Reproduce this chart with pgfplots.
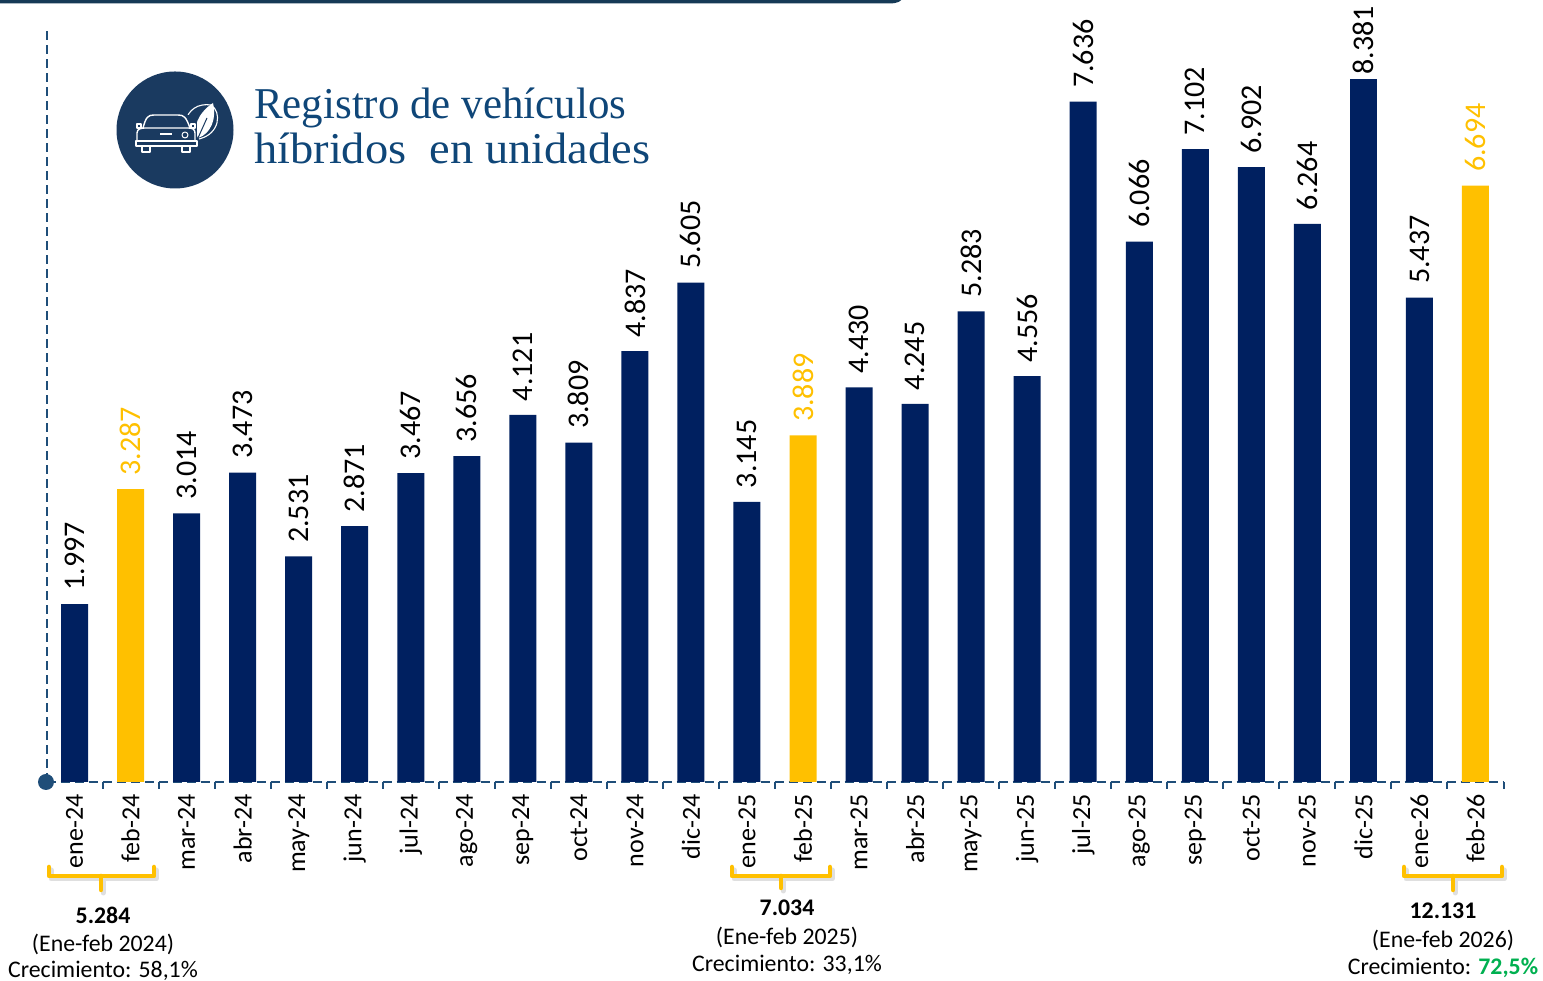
\documentclass[border=0pt]{standalone}
\usepackage{fontspec}
\setmainfont{Carlito}
\newfontfamily\titlefont{Liberation Serif}
\usepackage{pgfplots}
\usepackage{pgfplotstable}
\pgfplotsset{compat=1.18}
\definecolor{navybar}{HTML}{002060}
\definecolor{goldbar}{HTML}{FFC000}
\definecolor{axisblue}{HTML}{1F4E79}
\definecolor{iconblue}{HTML}{1A3A60}
\definecolor{bandblue}{HTML}{163A56}
\definecolor{titleblue}{HTML}{0F4678}
\definecolor{greenpct}{HTML}{00B050}
\pgfplotstableread{
x y label
0 1997 1.997
2 3014 3.014
3 3473 3.473
4 2531 2.531
5 2871 2.871
6 3467 3.467
7 3656 3.656
8 4121 4.121
9 3809 3.809
10 4837 4.837
11 5605 5.605
12 3145 3.145
14 4430 4.430
15 4245 4.245
16 5283 5.283
17 4556 4.556
18 7636 7.636
19 6066 6.066
20 7102 7.102
21 6902 6.902
22 6264 6.264
24 5437 5.437
}\navydata
\pgfplotstableread{
x y label
1 3287 3.287
13 3889 3.889
25 6694 6.694
}\golddata
% Bar height as drawn in the reference; its printed label is 8.381
\pgfplotstableread{
x y label
23 7890 8.381
}\capdata
\newcommand{\bracket}[5]{% x1 x2 xmid ytop ynub
  \draw[black!25,opacity=.5,line width=5pt,line cap=round,line join=round,shift={(2,3)}]
    (#1,#4) -- (#1,876) -- (#2,876) -- (#2,#4) (#3,876) -- (#3,#5);
  \draw[goldbar,line width=4.5pt,line cap=round,line join=round]
    (#1,#4) -- (#1,876) -- (#2,876) -- (#2,#4) (#3,876) -- (#3,#5);
}
\begin{document}
\begin{tikzpicture}[x=1pt,y=1pt]
\useasboundingbox (0,0) rectangle (1543,981);
\begin{axis}[
  at={(46.5pt,199pt)}, anchor=south west,
  scale only axis, width=1457pt, height=752pt,
  xmin=-0.5, xmax=25.5, ymin=0, ymax=8440,
  axis lines=left,
  axis line style={-, axisblue, line width=2pt, dash pattern=on 9pt off 5pt},
  clip=false,
  ybar, bar width=27pt,
  ytick=\empty,
  xtick={0,...,25},
  xticklabels={ene-24,feb-24,mar-24,abr-24,may-24,jun-24,jul-24,ago-24,sep-24,oct-24,nov-24,dic-24,ene-25,feb-25,mar-25,abr-25,may-25,jun-25,jul-25,ago-25,sep-25,oct-25,nov-25,dic-25,ene-26,feb-26},
  major tick length=0pt,
  minor xtick={-0.5,0.5,...,25.5},
  minor tick length=7pt,
  tick align=outside,
  minor tick style={axisblue, line width=2pt},
  xticklabel style={yshift=-9pt, rotate=90, anchor=east, font=\fontsize{26}{26}\selectfont, text=black},
  point meta=explicit symbolic,
  nodes near coords,
  every node near coord/.append style={rotate=90, anchor=west, inner ysep=0pt, inner xsep=13.5pt, font=\fontsize{30}{30}\selectfont},
]
\addplot[ybar, bar shift=0pt, fill=navybar, draw=none, text=black] table[x=x,y=y,meta=label] {\navydata};
\addplot[ybar, bar shift=0pt, fill=goldbar, draw=none, text=goldbar] table[x=x,y=y,meta=label] {\golddata};
\addplot[ybar, bar shift=0pt, fill=navybar, draw=none, text=black, every node near coord/.append style={inner xsep=4.5pt}] table[x=x,y=y,meta=label] {\capdata};
\end{axis}
\begin{scope}[shift={(0,981)},yscale=-1]
  % top band
  \fill[bandblue] (0,-2) -- (903,-2) -- (903,-4) to[out=90,in=0] (890,3.5) -- (0,3.5) -- cycle;
  % origin dot
  \fill[axisblue] (46,782) circle (8);
  % icon
  \fill[iconblue] (175,130) circle (58.5);
  \begin{scope}[white,line width=1.4pt,line join=round]
    % leaf
    \draw[line width=1.1pt] (199,139) .. controls (220,134) and (222,112) .. (211,105) .. controls (198,103) and (188,110) .. (186,121);
    \fill (198,138) .. controls (192,128) and (198,113) .. (213,103) .. controls (217,118) and (211,134) .. (198,138) -- cycle;
    \draw[iconblue,line width=1pt] (198,138) -- (207,118);
    % car
    \fill[iconblue] (136,115) rectangle (197,153);
    \draw (143,128) .. controls (146,117) and (148,115) .. (154,115) -- (178,115) .. controls (184,115) and (186,117) .. (190,128);
    \draw (137,141) -- (137,133) .. controls (137,129) and (141,128) .. (145,128) -- (188,128) .. controls (192,128) and (195,129) .. (195,133) -- (195,141);
    \draw (136,141) rectangle (197,146);
    \draw (142,146) rectangle (150,152) (182,146) rectangle (190,152);
    \draw (137,124) rectangle (141,128) (191,124) rectangle (195,128);
    \fill (160,133.5) rectangle (172,135);
    \draw[line width=1pt] (185,135) circle (3);
  \end{scope}
  % title
  \node[anchor=base west,inner sep=0pt,text=titleblue,font=\titlefont\fontsize{44}{44}\selectfont] at (254,119) {\resizebox{372pt}{\height}{Registro de vehículos}};
  \node[anchor=base west,inner sep=0pt,text=titleblue,font=\titlefont\fontsize{44}{44}\selectfont] at (254,164) {\resizebox{396pt}{\height}{híbridos\ \ en unidades}};
  % brackets
  \bracket{49}{154}{101}{867}{890}
  \bracket{732}{830}{781}{867}{888}
  \bracket{1404}{1502}{1453}{867}{890}
  % notes
  \tikzset{note/.style={inner sep=0pt,text=black,font=\fontsize{23.8}{24}\selectfont}}
  \node[note,font=\fontsize{23.8}{24}\selectfont\bfseries] at (103,915) {5.284};
  \node[note] at (103,944) {(Ene-feb 2024)};
  \node[note] at (103,971) {Crecimiento: 58,1\%};
  \node[note,font=\fontsize{23.8}{24}\selectfont\bfseries] at (787,908) {7.034};
  \node[note] at (787,937) {(Ene-feb 2025)};
  \node[note] at (787,965) {Crecimiento: 33,1\%};
  \node[note,font=\fontsize{23.8}{24}\selectfont\bfseries] at (1443,911) {12.131};
  \node[note] at (1443,940) {(Ene-feb 2026)};
  \node[note] at (1443,968) {Crecimiento: \textcolor{greenpct}{\textbf{72,5\%}}};
\end{scope}
\end{tikzpicture}
\end{document}
